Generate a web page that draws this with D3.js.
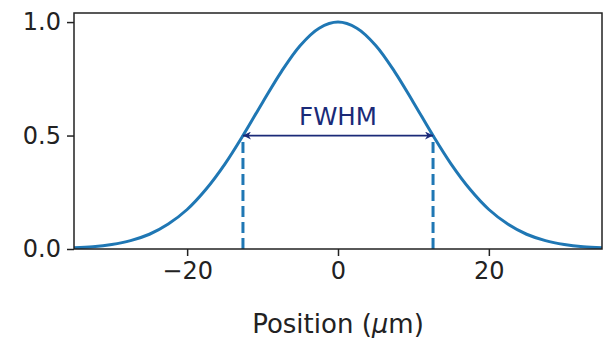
<!DOCTYPE html>
<html>
<head>
<meta charset="utf-8">
<script src="https://cdn.jsdelivr.net/npm/d3@7"></script>
<style>
  body { margin: 0; background: #fff; }
  text { font-family: "DejaVu Sans", sans-serif; }
</style>
</head>
<body>
<svg width="603" height="338"></svg>
<script>
// profile (position in um, normalised intensity)
const positions = [-35, -32.5, -30, -27.5, -25, -22.5, -20, -17.5, -15, -12.5, -10, -7.5, -5, -2.5, 0,
                   2.5, 5, 7.5, 10, 12.5, 15, 17.5, 20, 22.5, 25, 27.5, 30, 32.5, 35];
const intensity = [0.005, 0.010, 0.020, 0.037, 0.065, 0.110, 0.174, 0.263, 0.374, 0.505, 0.646, 0.782, 0.897, 0.973, 1.0,
                   0.973, 0.897, 0.782, 0.646, 0.505, 0.374, 0.263, 0.174, 0.110, 0.065, 0.037, 0.020, 0.010, 0.005];
const halfMax = [-12.6, 12.6];   // left and right half-maximum positions
const halfLevel = 0.5;
const xTicks = [-20, 0, 20];
const yTicks = [0.0, 0.5, 1.0];

var margin = {left: 74, right: 1, top: 13, bottom: 89};
var width = 603 - margin.left - margin.right;
var height = 338 - margin.top - margin.bottom;

var svg = d3.select('svg');
var g = svg.append('g')
			.attr('transform', 'translate(' + margin.left + ',' + margin.top + ')');

var x = d3.scaleLinear().domain([-35, 35]).range([0, width]);
var y = d3.scaleLinear().domain([0, 1.04]).range([height, 0]);

svg.append('defs').append('clipPath').attr('id', 'clip')
	.append('rect').attr('width', width).attr('height', height);

var blue = '#1f77b4';
var navy = '#1a2a78';

var line = d3.line()
			.x(d => x(d[0]))
			.y(d => y(d[1]))
			.curve(d3.curveCatmullRom);

g.append('path')
	.datum(d3.zip(positions, intensity))
	.attr('clip-path', 'url(#clip)')
	.attr('fill', 'none')
	.attr('stroke', blue)
	.attr('stroke-width', 3)
	.attr('d', line);

// dashed drop lines at half maximum
g.selectAll('.drop')
	.data(halfMax)
	.enter()
	.append('line')
	.attr('x1', d => x(d)).attr('x2', d => x(d))
	.attr('y1', y(0)).attr('y2', y(halfLevel))
	.attr('stroke', blue)
	.attr('stroke-width', 3)
	.attr('stroke-dasharray', '11,5');

// double headed arrow
var defs = svg.select('defs');
defs.append('marker')
	.attr('id', 'head')
	.attr('viewBox', '0 0 10 10')
	.attr('refX', 10).attr('refY', 5)
	.attr('markerWidth', 10).attr('markerHeight', 8)
	.attr('markerUnits', 'userSpaceOnUse')
	.attr('orient', 'auto-start-reverse')
	.append('path')
	.attr('d', 'M0,0 L10,5 L0,10 L3,5 Z')
	.attr('fill', navy);

g.append('line')
	.attr('x1', x(halfMax[0])).attr('x2', x(halfMax[1]))
	.attr('y1', y(halfLevel)).attr('y2', y(halfLevel))
	.attr('stroke', navy)
	.attr('stroke-width', 1.8)
	.attr('marker-start', 'url(#head)')
	.attr('marker-end', 'url(#head)');

g.append('text')
	.attr('x', x(d3.mean(halfMax)))
	.attr('y', y(halfLevel) - 11)
	.attr('text-anchor', 'middle')
	.attr('fill', navy)
	.style('font-size', '24.5px')
	.text('FWHM');

// axes
var xAxis = g.append('g')
	.attr('transform', 'translate(0,' + height + ')')
	.call(d3.axisBottom(x).tickValues(xTicks).tickSize(7).tickPadding(6)
		.tickFormat(d => d < 0 ? '\u2212' + Math.abs(d) : d));
var yAxis = g.append('g')
	.call(d3.axisLeft(y).tickValues(yTicks).tickSize(7).tickPadding(6)
		.tickFormat(d3.format('.1f')));

[xAxis, yAxis].forEach(a => {
	a.select('.domain').remove();
	a.selectAll('line').attr('stroke', '#222').attr('stroke-width', 1.5);
	a.selectAll('text').style('font-size', '24px').attr('fill', '#222')
		.style('font-family', '"DejaVu Sans", sans-serif');
});

g.append('rect')
	.attr('width', width).attr('height', height)
	.attr('fill', 'none')
	.attr('stroke', '#222')
	.attr('stroke-width', 1.5);

var label = svg.append('text')
	.attr('x', margin.left + x(0))
	.attr('y', 333)
	.attr('text-anchor', 'middle')
	.attr('fill', '#222')
	.style('font-size', '26px');
label.append('tspan').text('Position (');
label.append('tspan').style('font-style', 'italic').text('\u03bc');
label.append('tspan').text('m)');
</script>
</body>
</html>
